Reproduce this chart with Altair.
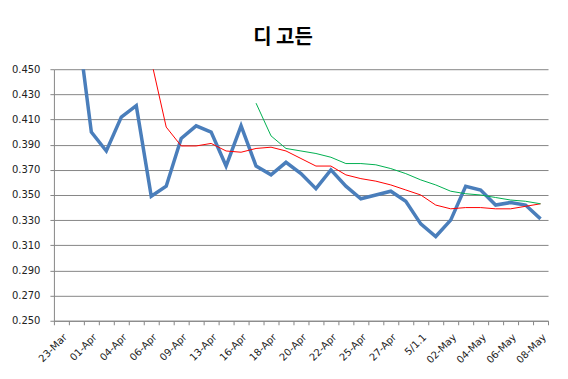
import altair as alt
import pandas as pd

dates = ["23-Mar", "30-Mar", "01-Apr", "02-Apr", "04-Apr", "05-Apr", "06-Apr", "08-Apr",
         "09-Apr", "11-Apr", "13-Apr", "15-Apr", "16-Apr", "17-Apr", "18-Apr", "19-Apr",
         "20-Apr", "21-Apr", "22-Apr", "23-Apr", "25-Apr", "26-Apr", "27-Apr", "29-Apr",
         "5/1.1", "5/1.2", "02-May", "03-May", "04-May", "05-May", "06-May", "07-May", "08-May"]

avg = [0.500, 0.493, 0.400, 0.385, 0.412, 0.421, 0.349, 0.357, 0.395, 0.405, 0.400,
       0.373, 0.405, 0.373, 0.366, 0.376, 0.367, 0.355, 0.370, 0.357, 0.347, 0.350,
       0.353, 0.345, 0.327, 0.317, 0.330, 0.357, 0.354, 0.342, 0.344, 0.342, 0.331]

ma_red = [None] * 6 + [0.457, 0.404, 0.389, 0.389, 0.391, 0.385, 0.384, 0.387, 0.388,
                       0.385, 0.379, 0.373, 0.373, 0.366, 0.363, 0.361, 0.358, 0.354,
                       0.350, 0.342, 0.339, 0.340, 0.340, 0.339, 0.339, 0.341, 0.343]

ma_green = [None] * 13 + [0.423, 0.397, 0.387, 0.385, 0.383, 0.380, 0.375, 0.375, 0.374,
                          0.371, 0.367, 0.362, 0.358, 0.353, 0.351, 0.350, 0.348, 0.346,
                          0.345, 0.343]

series_names = ["타율", "이동평균 A", "이동평균 B"]
series_colors = ["#4A7EBB", "#FF0000", "#00B050"]
series_widths = [3.5, 1, 1]

rows = []
for name, vals in zip(series_names, [avg, ma_red, ma_green]):
    for i, v in enumerate(vals):
        if v is not None:
            rows.append({"idx": i, "date": dates[i], "value": v, "series": name})
df = pd.DataFrame(rows)

n = len(dates)
tick_vals = [i - 0.5 for i in range(n + 1)]
label_array = "[" + ",".join("'" + d + "'" for d in dates) + "]"
label_expr = (
    f"(round(datum.value + 0.5) % 2 == 0 && round(datum.value + 0.5) < {n}) ? "
    f"{label_array}[round(datum.value + 0.5)] : ''"
)

grid_col = "#868686"

x_enc = alt.X(
    "idx:Q",
    scale=alt.Scale(domain=[-0.5, n - 0.5], nice=False, zero=False),
    axis=alt.Axis(
        title=None, values=tick_vals, labelExpr=label_expr, labelAngle=-45,
        labelOffset=7.5, labelFlush=False, labelOverlap=False, labelBound=False,
        grid=False, tickSize=4, tickColor=grid_col, domainColor=grid_col,
        labelFont="DejaVu Sans", labelFontSize=10, labelColor="#222222",
        labelPadding=7,
    ),
)
y_enc = alt.Y(
    "value:Q",
    scale=alt.Scale(domain=[0.25, 0.45], nice=False, zero=False),
    axis=alt.Axis(
        title=None, values=[round(0.25 + 0.02 * k, 3) for k in range(11)], format=".3f",
        grid=True, gridColor=grid_col, gridWidth=1, tickSize=4, tickColor=grid_col,
        domainColor=grid_col, labelFont="DejaVu Sans", labelFontSize=10,
        labelColor="#222222", labelPadding=10,
    ),
)

layers = []
for name, col, w in zip(series_names, series_colors, series_widths):
    layers.append(
        alt.Chart(df)
        .transform_filter(alt.datum.series == name)
        .mark_line(color=col, strokeWidth=w, clip=True, strokeJoin="miter")
        .encode(x=x_enc, y=y_enc, order="idx:Q")
    )

chart = (
    alt.layer(*layers)
    .properties(
        width=495,
        height=252,
        title=alt.TitleParams(
            "디 고든", font="Noto Sans CJK KR", fontSize=20, fontWeight="bold",
            color="#000000", anchor="middle", dx=-18, dy=22, offset=18, baseline="bottom",
        ),
        autosize=alt.AutoSizeParams(type="none"),
        padding={"left": 46, "top": 61, "right": 12, "bottom": 50},
        background="white",
    )
    .configure_view(stroke="transparent")
)

chart.save("out.html", embed_options={"renderer": "svg", "actions": False})
